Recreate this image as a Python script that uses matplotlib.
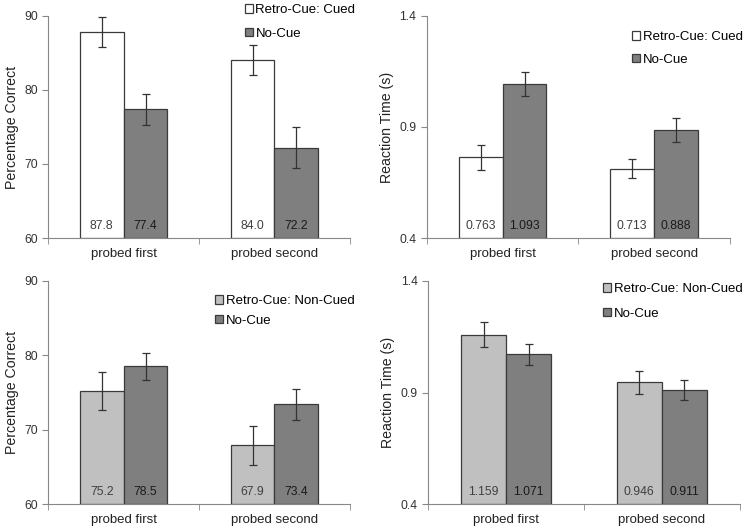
import matplotlib.pyplot as plt
import numpy as np

plt.rcParams['font.family'] = ['Liberation Sans', 'DejaVu Sans']

categories = ["probed first", "probed second"]

# top row: retro-cue cued vs no-cue
acc_cued = [87.8, 84.0]
acc_cued_err = [2.0, 2.0]
acc_nocue_top = [77.4, 72.2]
acc_nocue_top_err = [2.1, 2.8]
rt_cued = [0.763, 0.713]
rt_cued_err = [0.055, 0.043]
rt_nocue_top = [1.093, 0.888]
rt_nocue_top_err = [0.055, 0.054]

# bottom row: retro-cue non-cued vs no-cue
acc_noncued = [75.2, 67.9]
acc_noncued_err = [2.6, 2.6]
acc_nocue_bot = [78.5, 73.4]
acc_nocue_bot_err = [1.8, 2.1]
rt_noncued = [1.159, 0.946]
rt_noncued_err = [0.056, 0.051]
rt_nocue_bot = [1.071, 0.911]
rt_nocue_bot_err = [0.048, 0.044]

fig = plt.figure(figsize=(7.54, 5.29), dpi=100)
boxes = [
    [0.064, 0.550, 0.400, 0.420],
    [0.566, 0.550, 0.402, 0.420],
    [0.064, 0.047, 0.400, 0.422],
    [0.568, 0.047, 0.413, 0.422],
]

# (legend anchor x, legend center y, label spacing)
panels = [
    (acc_cued, acc_cued_err, acc_nocue_top, acc_nocue_top_err, "Retro-Cue: Cued", "white",
     "Percentage Correct", (60, 90), [60, 70, 80, 90], "%.1f", (0.652, 0.973), 0.88),
    (rt_cued, rt_cued_err, rt_nocue_top, rt_nocue_top_err, "Retro-Cue: Cued", "white",
     "Reaction Time (s)", (0.4, 1.4), [0.4, 0.9, 1.4], "%.3f", (0.678, 0.854), 0.8),
    (acc_noncued, acc_noncued_err, acc_nocue_bot, acc_nocue_bot_err, "Retro-Cue: Non-Cued", "#c0c0c0",
     "Percentage Correct", (60, 90), [60, 70, 80, 90], "%.1f", (0.553, 0.865), 0.57),
    (rt_noncued, rt_noncued_err, rt_nocue_bot, rt_nocue_bot_err, "Retro-Cue: Non-Cued", "#c0c0c0",
     "Reaction Time (s)", (0.4, 1.4), [0.4, 0.9, 1.4], "%.3f", (0.562, 0.908), 0.95),
]

x = np.arange(len(categories))
w = 0.29
edge = "#3a3a3a"
ekw = dict(ecolor="#333333", elinewidth=0.9, capsize=3, capthick=0.9)

for box, p in zip(boxes, panels):
    a, a_err, b, b_err, name, col, ylab, ylim, yt, fmt, legpos, lsp = p
    ax = fig.add_axes(box)
    base = ylim[0]
    a_h = [v - base for v in a]
    b_h = [v - base for v in b]
    ax.bar(x - w / 2, a_h, w, bottom=base, color=col, edgecolor=edge, linewidth=0.9,
           yerr=a_err, error_kw=ekw, label=name, zorder=2)
    ax.bar(x + w / 2, b_h, w, bottom=base, color="#7f7f7f", edgecolor=edge, linewidth=0.9,
           yerr=b_err, error_kw=ekw, label="No-Cue", zorder=2)
    off = (ylim[1] - ylim[0]) * 0.054
    for i in range(len(categories)):
        ax.text(x[i] - w / 2, base + off, fmt % a[i], ha="center", va="center",
                fontsize=8.7, color="#404040", zorder=3)
        ax.text(x[i] + w / 2, base + off, fmt % b[i], ha="center", va="center",
                fontsize=8.7, color="#1a1a1a", zorder=3)
    ax.set_xlim(-0.5, 1.5)
    ax.set_ylim(*ylim)
    ax.set_yticks(yt)
    ax.set_yticklabels([("%g" % t) if ylim[1] > 2 else ("%.1f" % t) for t in yt])
    ax.set_xticks(x)
    ax.set_xticklabels(categories)
    ax.set_xticks([-0.5, 0.5, 1.5], minor=True)
    ax.tick_params(axis="x", which="major", length=0, labelsize=9.5, pad=7, colors="#222222")
    ax.tick_params(axis="x", which="minor", length=4, color="#888888", direction="out")
    ax.tick_params(axis="y", length=4, color="#888888", labelsize=8.7, labelcolor="#333333")
    ax.set_ylabel(ylab, fontsize=10.2, color="#222222")
    for s in ["top", "right"]:
        ax.spines[s].set_visible(False)
    for s in ["left", "bottom"]:
        ax.spines[s].set_color("#888888")
    ax.legend(loc="center left", bbox_to_anchor=legpos, frameon=False, fontsize=9.5,
              handlelength=0.6, handleheight=0.6, handletextpad=0.2, labelspacing=lsp,
              borderaxespad=0, borderpad=0)

fig.savefig("out.png", dpi=100)
